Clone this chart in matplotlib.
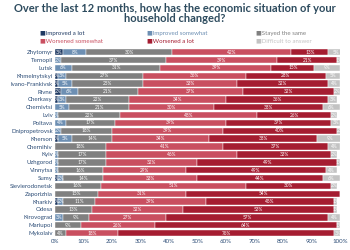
import numpy as np
import matplotlib
matplotlib.use('Agg')
from matplotlib import pyplot as plt

plt.rcParams['font.family'] = ['Lato', 'DejaVu Sans']

regions = ['Zhytomyr', 'Ternopil', 'Lutsk', 'Khmelnytskyi', 'Ivano-Frankivsk', 'Rivne',
           'Cherkasy', 'Chernivtsi', 'Lviv', 'Poltava', 'Dnipropetrovsk', 'Kherson',
           'Chernihiv', 'Kyiv', 'Uzhgorod', 'Vinnytsa', 'Sumy', 'Sievierodonetsk',
           'Zaporizhia', 'Kharkiv', 'Odesa', 'Kirovograd', 'Mariupol', 'Mykolaiv']

improved_lot = [3, 0, 0, 1, 1, 2, 1, 0, 0, 0, 0, 1, 0, 0, 0, 0, 1, 0, 0, 1, 0, 0, 0, 0]
improved_some = [8, 2, 6, 3, 5, 6, 3, 5, 1, 4, 2, 5, 0, 1, 1, 1, 2, 0, 0, 2, 0, 3, 0, 0]
stayed = [30, 37, 31, 27, 25, 21, 22, 21, 22, 17, 18, 14, 18, 17, 17, 16, 14, 16, 15, 11, 13, 9, 9, 4]
worsened_some = [42, 39, 39, 36, 33, 37, 34, 30, 48, 39, 39, 34, 41, 46, 32, 29, 33, 51, 31, 39, 32, 27, 26, 18]
worsened_lot = [13, 21, 15, 28, 32, 32, 36, 38, 26, 37, 40, 38, 37, 33, 49, 49, 44, 30, 54, 45, 53, 57, 64, 76]
difficult = [5, 1, 9, 5, 4, 2, 3, 6, 2, 3, 2, 9, 4, 2, 1, 4, 6, 2, 0, 1, 1, 4, 1, 3]

series = [
    ('Improved a lot', improved_lot, '#1f3a63'),
    ('Improved somewhat', improved_some, '#6d8fb3'),
    ('Stayed the same', stayed, '#808080'),
    ('Worsened somewhat', worsened_some, '#c94f60'),
    ('Worsened a lot', worsened_lot, '#a51d31'),
    ('Difficult to answer', difficult, '#c3c3c3'),
]

fig = plt.figure(figsize=(3.5, 2.5), dpi=100)
ax = fig.add_axes([0.157, 0.052, 0.814, 0.755])

y = np.arange(len(regions))
left = np.zeros(len(regions))
for name, vals, col in series:
    vals = np.array(vals, dtype=float)
    ax.barh(y, vals, left=left, height=0.82, color=col, edgecolor='white', linewidth=0.3)
    for yi, v, l in zip(y, vals, left):
        if v > 0:
            ax.text(l + v / 2, yi, f'{int(v)}%', ha='center', va='center',
                    fontsize=3.4, color='white')
    left += vals

ax.set_ylim(len(regions) - 0.5, -0.5)
ax.set_xlim(0, 100)
ax.set_yticks(y)
ax.set_yticklabels(regions, fontsize=4.4, color='#2f4f78')
ax.set_xticks(np.arange(0, 101, 10))
ax.set_xticklabels([f'{t}%' for t in range(0, 101, 10)], fontsize=4.4, color='#2f4f78')
ax.tick_params(length=0, pad=1.5)
for s in ax.spines.values():
    s.set_visible(False)

fig.text(0.5, 0.99, 'Over the last 12 months, how has the economic situation of your\nhousehold changed?',
         ha='center', va='top', fontsize=8.0, fontweight='bold', color='#2d4b5e', linespacing=1.0)

# legend: 3 columns x 2 rows, coloured text
leg_x = [0.115, 0.42, 0.73]
leg_y = [0.868, 0.836]
for i, (name, vals, col) in enumerate(series):
    r = 0 if i < 3 else 1
    c = i % 3
    fig.text(leg_x[c], leg_y[r], '\u25a0' + name, fontsize=4.4, color=col,
             ha='left', va='center', family=['Lato', 'DejaVu Sans'])

fig.savefig('out.png', dpi=100)
